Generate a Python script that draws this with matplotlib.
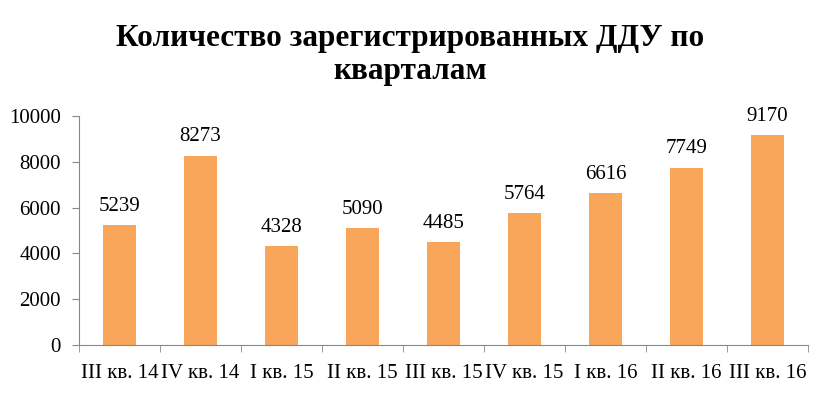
import numpy as np
import matplotlib.pyplot as plt

kvartaly = ['III кв. 14', 'IV кв. 14', 'I кв. 15', 'II кв. 15', 'III кв. 15',
            'IV кв. 15', 'I кв. 16', 'II кв. 16', 'III кв. 16']
ddu = [5239, 8273, 4328, 5090, 4485, 5764, 6616, 7749, 9170]
y_ticks = [0, 2000, 4000, 6000, 8000, 10000]

plt.rcParams['font.family'] = ['Liberation Serif', 'DejaVu Serif']

fig = plt.figure(figsize=(8.21, 3.94), dpi=100)
ax = fig.add_axes([0.0962, 0.1244, 0.888, 0.5812])

x = np.arange(len(kvartaly))
ax.bar(x, ddu, width=0.4, color='#F9A65A', zorder=2)
for xi, v in zip(x, ddu):
    ax.text(xi, v + 400, str(v), ha='center', va='bottom', fontsize=15)

ax.set_xlim(-0.5, len(kvartaly) - 0.5)
ax.set_ylim(0, 10000)
ax.set_yticks(y_ticks)
ax.set_xticks(x)
ax.set_xticklabels(kvartaly)
ax.set_xticks(np.arange(-0.5, len(kvartaly)), minor=True)
ax.tick_params(axis='x', which='major', length=0, pad=14, labelsize=15)
ax.tick_params(axis='x', which='minor', length=5, color='#888888')
ax.tick_params(axis='y', length=5, color='#888888', labelsize=15, pad=8)

for s in ['top', 'right']:
    ax.spines[s].set_visible(False)
for s in ['left', 'bottom']:
    ax.spines[s].set_color('#888888')

fig.suptitle('Количество зарегистрированных ДДУ по\nкварталам', x=0.5, y=0.94,
             fontsize=22.5, fontweight='bold', linespacing=1.2)

fig.savefig('out.png', dpi=100)
